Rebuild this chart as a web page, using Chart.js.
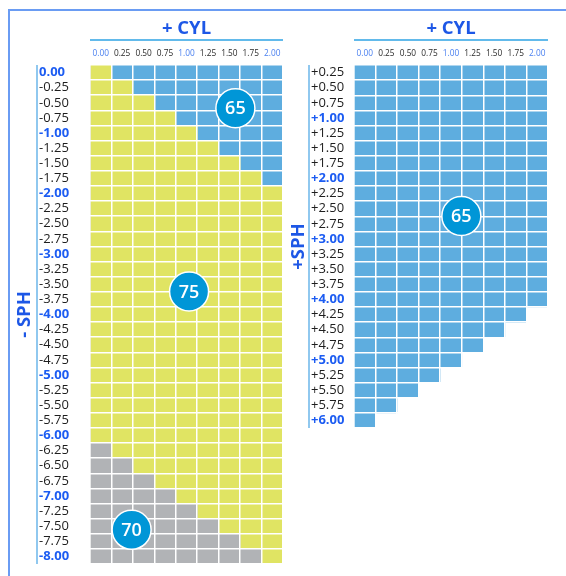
<!DOCTYPE html>
<html><head><meta charset="utf-8">
<script src="https://cdn.jsdelivr.net/npm/chart.js@4"></script>
<style>
html,body{margin:0;padding:0;background:#fff;width:566px;height:576px;overflow:hidden}
#frame{position:absolute;left:8px;top:9px;right:-6px;bottom:-6px;border-top:2px solid #6a9cf3;border-left:2px solid #6a9cf3;border-right:none;border-bottom:none}
.box{position:absolute;top:0;height:576px}
#left{left:0;width:290px}
#right{left:290px;width:276px}
</style></head><body>
<div id="frame"></div>
<div class="box" id="left"><canvas id="c1"></canvas></div>
<div class="box" id="right"><canvas id="c2"></canvas></div>
<script>
// ---- data ----
const cylLabels = ['0.00','0.25','0.50','0.75','1.00','1.25','1.50','1.75','2.00'];
const minusSphLabels = ['0.00','-0.25','-0.50','-0.75','-1.00','-1.25','-1.50','-1.75','-2.00','-2.25','-2.50','-2.75','-3.00','-3.25','-3.50','-3.75','-4.00','-4.25','-4.50','-4.75','-5.00','-5.25','-5.50','-5.75','-6.00','-6.25','-6.50','-6.75','-7.00','-7.25','-7.50','-7.75','-8.00'];
const plusSphLabels = ['+0.25','+0.50','+0.75','+1.00','+1.25','+1.50','+1.75','+2.00','+2.25','+2.50','+2.75','+3.00','+3.25','+3.50','+3.75','+4.00','+4.25','+4.50','+4.75','+5.00','+5.25','+5.50','+5.75','+6.00'];
// number of cells per row (index 70 = gray, 75 = yellow, 65 = blue)
const minusGrayCells   = [0,0,0,0,0,0,0,0,0,0,0,0,0,0,0,0,0,0,0,0,0,0,0,0,0,1,2,3,4,5,6,7,8];
const minusYellowCells = [1,2,3,4,5,6,7,8,9,9,9,9,9,9,9,9,9,9,9,9,9,9,9,9,9,8,7,6,5,4,3,2,1];
const minusBlueCells   = [8,7,6,5,4,3,2,1,0,0,0,0,0,0,0,0,0,0,0,0,0,0,0,0,0,0,0,0,0,0,0,0,0];
const plusBlueCells    = [9,9,9,9,9,9,9,9,9,9,9,9,9,9,9,9,8,7,6,5,4,3,2,1];
// badges: label, CYL, SPH
const minusBadgeText = ['65','75','70'];
const minusBadgeCyl  = [1.57,1.03,0.36];
const minusBadgeSph  = [-0.59,-3.62,-7.56];
const plusBadgeText  = ['65'];
const plusBadgeCyl   = [1.12];
const plusBadgeSph   = [2.62];

// ---- style ----
const FAM = '"Open Sans", "Noto Sans", sans-serif';
const C = {yellow:'#e0e463', blue:'#5eaddf', gray:'#b1b3b6', badge:'#0096d7', title:'#1d57e6',
  rule:'#2ea3e4', axisLine:'#6bb6ea', tickBlue:'#1c5cf2', cylBlue:'#4a80f0', text:'#1e1e1e'};
const isWhole = s => /\.00$/.test(s);

const decor = {
  id:'decor',
  afterDraw(chart, args, o) {
    const {ctx, chartArea:a} = chart;
    const x = chart.scales.x, y = chart.scales.y;
    const rows = chart.data.labels;
    ctx.save();
    ctx.fillStyle = C.title; ctx.font = `bold 18.5px ${FAM}`;
    ctx.textAlign = 'center'; ctx.textBaseline = 'alphabetic';
    ctx.fillText(o.title, (a.left + a.right) / 2, o.titleY);
    ctx.lineWidth = 1.5; ctx.strokeStyle = C.rule;
    ctx.beginPath(); ctx.moveTo(a.left, o.ruleY); ctx.lineTo(a.right, o.ruleY); ctx.stroke();
    ctx.strokeStyle = C.axisLine;
    ctx.beginPath(); ctx.moveTo(y.left - 2, a.top); ctx.lineTo(y.left - 2, a.bottom); ctx.stroke();
    ctx.save();
    ctx.translate(o.sideX, (a.top + a.bottom) / 2); ctx.rotate(-Math.PI / 2);
    ctx.fillText(o.side, 0, 0);
    ctx.restore();
    // badges
    const sph0 = parseFloat(rows[0]), sphStep = parseFloat(rows[1]) - sph0;
    const cyl0 = parseFloat(cylLabels[0]), cylStep = parseFloat(cylLabels[1]) - cyl0;
    const y0 = y.getPixelForValue(0), rowH = y.getPixelForValue(1) - y0;
    o.text.forEach((t, i) => {
      const px = x.getPixelForValue((o.cyl[i] - cyl0) / cylStep + 0.5);
      const py = y0 + (o.sph[i] - sph0) / sphStep * rowH;
      ctx.beginPath(); ctx.arc(px, py, 19.5, 0, Math.PI * 2);
      ctx.fillStyle = C.badge; ctx.fill();
      ctx.lineWidth = 1.5; ctx.strokeStyle = '#fff'; ctx.stroke();
      ctx.fillStyle = '#fff'; ctx.font = `600 18px ${FAM}`;
      ctx.textAlign = 'center'; ctx.textBaseline = 'middle';
      ctx.fillText(t, px, py + 1);
    });
    ctx.restore();
  }
};

function build(id, rows, datasets, deco, pad) {
  return new Chart(document.getElementById(id), {
    type: 'bar',
    data: {labels: rows, datasets},
    options: {
      indexAxis: 'y', responsive: true, maintainAspectRatio: false, animation: false,
      layout: {padding: {left: pad.left, right: pad.right, top: 0, bottom: pad.bottom}},
      plugins: {legend: {display: false}, tooltip: {enabled: false}, decor: deco},
      datasets: {bar: {barPercentage: 1, categoryPercentage: 1, borderWidth: 0}},
      scales: {
        x: {type: 'linear', position: 'top', stacked: true, min: 0, max: cylLabels.length,
          ticks: {stepSize: 1, autoSkip: false, maxRotation: 0, padding: 6.5, labelOffset: pad.half,
            callback: (v, i) => cylLabels[i] ?? '',
            color: c => isWhole(cylLabels[c.index] || '') ? C.cylBlue : '#2a2a2a',
            font: {family: FAM, size: 8.3}},
          grid: {color: '#fff', lineWidth: 1.5, z: 1, drawTicks: false},
          border: {display: false},
          afterFit: s => { s.height = 65; }},
        y: {type: 'category', stacked: true,
          ticks: {crossAlign: 'far', padding: 0, autoSkip: false,
            color: c => isWhole(rows[c.index]) ? C.tickBlue : C.text,
            font: c => ({family: FAM, size: 13, weight: isWhole(rows[c.index]) ? 'bold' : 'normal'})},
          grid: {color: '#fff', lineWidth: 1.5, z: 1, drawTicks: false, offset: true},
          border: {display: false},
          afterFit: s => { s.width = pad.axisW; }}
      }
    },
    plugins: [decor]
  });
}

build('c1', minusSphLabels, [
  {data: minusGrayCells, backgroundColor: C.gray},
  {data: minusYellowCells, backgroundColor: C.yellow},
  {data: minusBlueCells, backgroundColor: C.blue}
], {title: '+ CYL', titleY: 33.5, ruleY: 40, side: '- SPH', sideX: 29.5,
    text: minusBadgeText, cyl: minusBadgeCyl, sph: minusBadgeSph},
  {left: 39, right: 7, bottom: 12, axisW: 51, half: 10.7});

build('c2', plusSphLabels, [
  {data: plusBlueCells, backgroundColor: C.blue}
], {title: '+ CYL', titleY: 33.5, ruleY: 40, side: '+SPH', sideX: 13.5,
    text: plusBadgeText, cyl: plusBadgeCyl, sph: plusBadgeSph},
  {left: 21, right: 18, bottom: 148, axisW: 43, half: 10.8});
</script>
</body></html>
